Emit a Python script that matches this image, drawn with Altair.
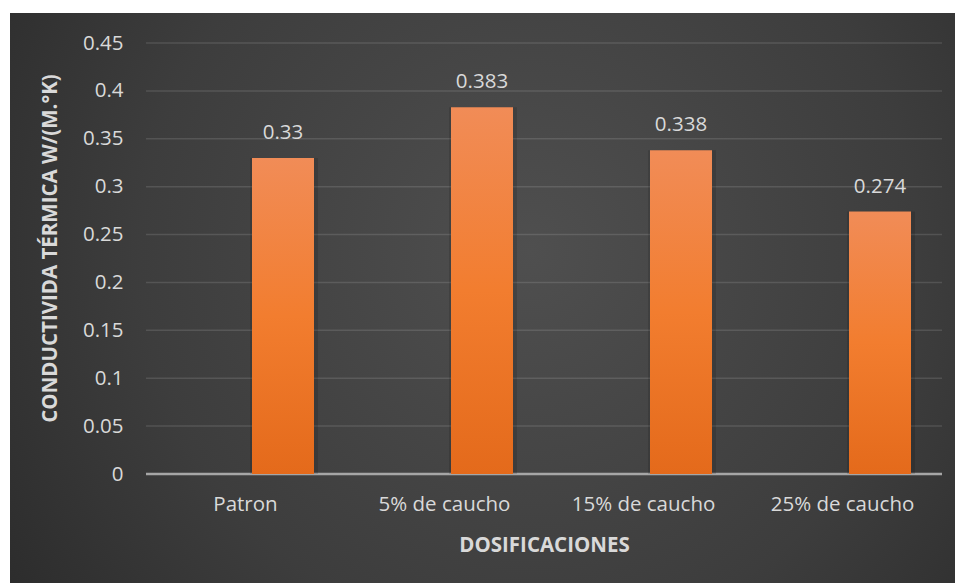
import altair as alt
import pandas as pd

categories = ["Patron", "5% de caucho", "15% de caucho", "25% de caucho"]
values = [0.33, 0.383, 0.338, 0.274]
y_ticks = [0, 0.05, 0.1, 0.15, 0.2, 0.25, 0.3, 0.35, 0.4, 0.45]

df = pd.DataFrame({"cat": categories, "value": values})
grid_df = pd.DataFrame({"t": y_ticks[1:]})
zero_df = pd.DataFrame({"t": [0]})

FONT = "Open Sans"
TXT = "#d9d9d9"
FS = 20.5

x_enc = alt.X(
    "cat:N",
    sort=categories,
    scale=alt.Scale(paddingInner=0, paddingOuter=0),
    axis=alt.Axis(
        title="DOSIFICACIONES",
        labelAngle=0,
        labelAlign="center",
        domain=False,
        ticks=False,
        grid=False,
        labelFont=FONT,
        labelFontSize=FS,
        labelColor=TXT,
        labelPadding=20,
        titleFont=FONT,
        titleFontSize=FS,
        titleFontWeight="bold",
        titleColor=TXT,
        titlePadding=21,
        zindex=1,
    ),
)
y_scale = alt.Scale(domain=[0, 0.45], nice=False)
y_enc = alt.Y(
    "value:Q",
    scale=y_scale,
    axis=alt.Axis(
        title="CONDUCTIVIDA TÉRMICA W/(M.°K)",
        values=y_ticks,
        format="~g",
        domain=False,
        ticks=False,
        grid=False,
        labelFont=FONT,
        labelFontSize=FS,
        labelColor=TXT,
        labelPadding=23,
        titleFont=FONT,
        titleFontSize=FS,
        titleFontWeight="bold",
        titleColor=TXT,
        titleX=-96,
        titleY=205,
        titleBaseline="middle",
        titleAlign="center",
        zindex=1,
    ),
)

bg = alt.Chart(zero_df).mark_rect(
    fill=alt.RadialGradient(
        gradient="radial",
        x1=0.55, y1=0.45, x2=0.55, y2=0.45, r1=0, r2=0.75,
        stops=[
            alt.GradientStop(offset=0, color="#4f4f4f"),
            alt.GradientStop(offset=0.55, color="#3d3d3d"),
            alt.GradientStop(offset=1, color="#262626"),
        ],
    ),
).encode(
    x=alt.value(-136), x2=alt.value(809), y=alt.value(-30), y2=alt.value(540)
)

grid = alt.Chart(grid_df).mark_rule(
    color="white", strokeOpacity=0.12, strokeWidth=1.5
).encode(y=alt.Y("t:Q", scale=y_scale))

zero = alt.Chart(zero_df).mark_rule(
    color="#a6a6a6", strokeWidth=2.5
).encode(y=alt.Y("t:Q", scale=y_scale))

bars = alt.Chart(df).mark_bar(
    width=62,
    xOffset=37.5,
    fill=alt.LinearGradient(
        gradient="linear",
        x1=0, y1=0, x2=0, y2=1,
        stops=[
            alt.GradientStop(offset=0, color="#f18c57"),
            alt.GradientStop(offset=0.5, color="#f27d2f"),
            alt.GradientStop(offset=1, color="#e46a1b"),
        ],
    ),
).encode(x=x_enc, y=y_enc)

shadow = alt.Chart(df).mark_bar(
    width=68,
    xOffset=38.5,
    color="black",
    opacity=0.12,
).encode(x=x_enc, y=y_enc)

labels = alt.Chart(df).mark_text(
    xOffset=37.5,
    dy=-25,
    baseline="middle",
    font=FONT,
    fontSize=FS,
    color=TXT,
).encode(
    x=x_enc,
    y=y_enc,
    text=alt.Text("value:Q", format="~g"),
)

chart = (
    alt.layer(bg, grid, zero, shadow, bars, labels)
    .properties(
        width=796,
        height=431,
        background="white",
        padding={"left": 146, "top": 43, "right": 13, "bottom": 109},
        autosize=alt.AutoSizeParams(type="none"),
    )
    .configure_view(stroke=None)
)

chart.save("out.html", embed_options={"renderer": "svg", "actions": False})
